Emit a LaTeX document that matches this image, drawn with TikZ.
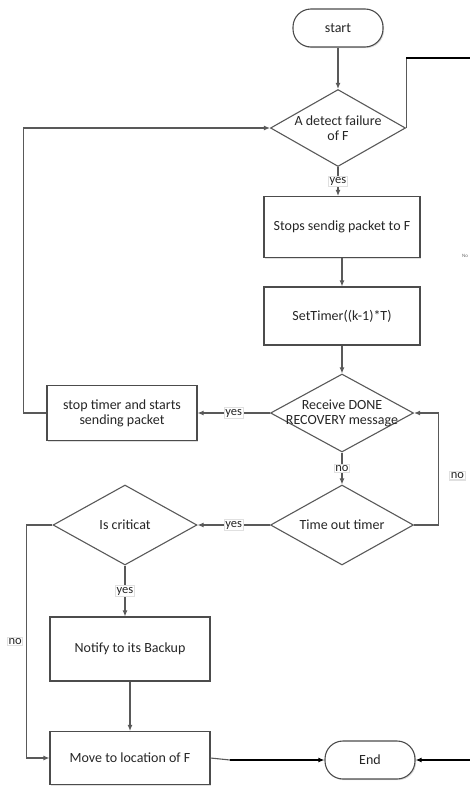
\documentclass[tikz,border=0pt]{standalone}
\usepackage{fontspec}
\setmainfont{Carlito}
\usetikzlibrary{positioning,arrows.meta,shapes.geometric,shadows}

\begin{document}
\begin{tikzpicture}[x=1pt,y=-1pt,>={Latex[length=6pt,width=5pt]},
  every node/.style={font=\fontsize{14}{15}\selectfont,text=black!85},
  box/.style={rectangle,draw=black!70,line width=1.1pt,fill=white,align=center,
    drop shadow={shadow xshift=1.2pt,shadow yshift=-1.2pt,opacity=.25}},
  term/.style={box,rounded corners=18pt,minimum width=90,minimum height=38},
  decision/.style={diamond,draw=black!65,line width=1.1pt,fill=white,inner sep=0pt},
  tag/.style={fill=white,draw=black!12,inner sep=1.2pt,font=\fontsize{12.5}{13}\selectfont},
  link/.style={draw=black!65,line width=1.1pt},
  arr/.style={link,->},
  exit/.style={draw=black,line width=1.4pt}]
  \useasboundingbox (0,0) rectangle (470,787);

  % main column
  \node[term] (start) at (338,28) {start};
  \node[decision,minimum width=135,minimum height=77,
    label={[align=center]center:A detect failure\\of F}] (detect) at (338,128) {};
  \node[box,minimum width=156,minimum height=61] (stops) at (342,227) {Stops sendig packet to F};
  \node[box,minimum width=156,minimum height=58] (settimer) at (342,316) {SetTimer((k-1)*T)};
  \node[decision,minimum width=143,minimum height=78,
    label={[align=center]center:Receive DONE\\RECOVERY message}] (recv) at (342,413) {};
  \node[box,minimum width=150,minimum height=55] (stoptimer) at (122,413) {stop timer and starts\\sending packet};
  \node[decision,minimum width=143,minimum height=80,
    label={center:Time out timer}] (timeout) at (342,525) {};

  % left column
  \node[decision,minimum width=144,minimum height=80,
    label={center:Is criticat}] (critical) at (125,525) {};
  \node[box,minimum width=160,minimum height=64] (notify) at (130,649) {Notify to its Backup};
  \node[box,minimum width=160,minimum height=53] (move) at (130,758) {Move to location of F};
  \node[term] (end) at (370,760) {End};

  \node[font=\fontsize{5}{6}\selectfont,text=black!60] (stray) at (465,256) {No};

  \coordinate (exittop) at (470,58);
  \coordinate (exitbot) at (470,760);
  \coordinate (mid) at (230,760);

  \draw[arr] (start) -- (detect);
  \draw[arr] (detect.south) -- node[tag]{yes} (detect.south |- stops.north);
  \draw[arr] (stops) -- (settimer);
  \draw[arr] (settimer) -- (recv);
  \draw[arr] (recv) -- node[tag]{yes} (stoptimer);
  \draw[arr] (stoptimer.west) -- ++(-23,0) |- (detect.west);
  \draw[arr] (recv) -- node[tag]{no} (timeout);
  \draw[arr] (timeout.east) -- ++(24,0) |- node[tag,pos=.22,anchor=west,xshift=11pt]{no} (recv.east);
  \draw[arr] (timeout) -- node[tag]{yes} (critical);
  \draw[arr] (critical.south) -- node[tag]{yes} (critical.south |- notify.north);
  \draw[arr] (notify) -- (move);
  \draw[arr] (critical.west) -- ++(-26,0) |- node[tag,pos=.25,anchor=east,xshift=-3pt]{no} (move.west);
  \draw[link] (move.east) -- (mid);
  \draw[exit,->] (mid) -- (end);
  \draw[link] (detect.east) |- (exittop);
  \draw[exit] (detect.east |- exittop) -- (exittop);
  \draw[exit,->] (exitbot) -- (end.east);
\end{tikzpicture}
\end{document}
